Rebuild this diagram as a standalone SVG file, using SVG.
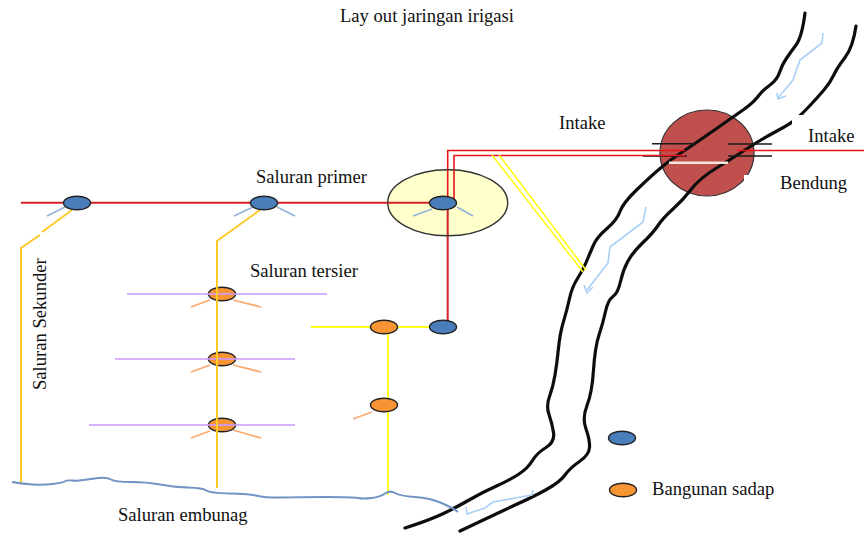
<svg xmlns="http://www.w3.org/2000/svg" width="864" height="533" viewBox="0 0 864 533">
<defs><filter id="soft" x="-5%" y="-5%" width="110%" height="110%"><feGaussianBlur stdDeviation="0.45"/></filter></defs>
<style>
text{font-family:"Liberation Serif","Times New Roman",serif;font-size:18.6px;fill:#111}
.bank{fill:none;stroke:#0d0d0d;stroke-width:3.200;stroke-linejoin:round;stroke-linecap:round}
.flow{fill:none;stroke:#a9d0f5;stroke-width:1.600;stroke-linejoin:round}
.red{fill:none;stroke:#e8141c;stroke-width:1.600}
.prim{fill:none;stroke:#d42027;stroke-width:2}
.sec{fill:none;stroke:#ffc926;stroke-width:2}
.yel{fill:none;stroke:#ffff1a;stroke-width:2}
.pur{stroke:#cc99ff;stroke-width:1.600}
.ot{stroke:#fbab70;stroke-width:1.800}
.bt{stroke:#92b4d8;stroke-width:1.800}
.blk{stroke:#1a1a1a;stroke-width:1.400}
.b{fill:#4a7ebb;stroke:#222;stroke-width:1.400}
.o{fill:#f79433;stroke:#222;stroke-width:1.400}
</style>
<g id="bendung"><ellipse cx="707" cy="153" rx="47" ry="43" fill="#c0504d" stroke="#333" stroke-width="1.200"/></g>
<g id="river" filter="url(#soft)">
<path class="bank" d="M805 13Q802 37 796 45Q790 53 786 59Q782 65 779.500 72.500Q777 80 770 85Q763 90 758 96.500Q753 103 743 110Q733 117 713 131Q693 145 681.500 152.500Q670 160 660 168.500Q650 177 636.500 190Q623 203 620 211.500Q617 220 607 228.500Q597 237 593.500 245Q590 253 586.500 261.500Q583 270 577.500 278.500Q572 287 569.500 298.500Q567 310 563.500 321.500Q560 333 558.500 348Q557 363 555 375Q553 387 549.500 396.500Q546 406 549 414.500Q552 423 553.500 432.500Q555 442 546 447.500Q537 453 532.500 460.500Q528 468 519 474Q510 480 496.500 486Q483 492 470 499.500Q457 507 443.500 513.500Q430 520 405 528"/>
<path class="bank" d="M856 26Q853 47 845 57.500Q837 68 833.500 75.500Q830 83 823.500 90.500Q817 98 810 105.500Q803 113 797.500 118Q792 123 776 131.500Q760 140 746.500 149Q733 158 716.500 168Q700 178 691.500 189Q683 200 673 209Q663 218 658 225.500Q653 233 643 242.500Q633 252 628 261Q623 270 620.500 281.500Q618 293 613 296.500Q608 300 605.500 311.500Q603 323 599 335Q595 347 593.500 370Q592 393 587 405.500Q582 418 586 429Q590 440 589.500 447.500Q589 455 579.500 461.500Q570 468 565 475Q560 482 546.500 489.500Q533 497 515 505L460 531"/>
<path class="flow" d="M823 33L822 43L800 60L793 80L778 98M777 93L778 99L786 96"/>
<path class="flow" d="M646 207L643 222L610 247L608 263L587 290M584 285L587 293L593 287"/>
<path class="flow" d="M533 490L532 495L493 502L485 508L467 514L466 507"/>
</g>
<g id="patches" fill="#fff"><rect x="792" y="115" width="72" height="25"/><rect x="744" y="175" width="20" height="25"/></g>
<g id="connectors">
<path d="M652 143.700H695M643 156H687M728 144H772M728 156H772" class="blk" fill="none"/>
<path d="M669 162.700H728" stroke="#f5e6dc" stroke-width="2.400" fill="none"/>
<path class="red" d="M447.700 202V150.500H685"/>
<path class="red" d="M454 201V155.500H685"/>
<path class="red" d="M737 150.500H864"/>
<path class="prim" d="M21 202.700H430"/>
<path class="prim" d="M447.700 203V321"/>
<path class="yel" style="stroke-width:1.600" d="M492 155L583 272M499 155L586 270"/>
<path class="sec" d="M72 210L42 232M40 235L21 248V483"/>
<path class="sec" d="M260 210L217 241V488"/>
<path class="yel" d="M311 327H430M388 334V495"/>
<path class="pur" d="M127 294H327M115 359H295M89 425H295"/>
<path class="ot" d="M191 307L210 300M233 300L261 307M191 372L210 365M233 365L261 372M191 438L210 431M233 430L261 438M353 419L372 412"/>
<path class="bt" d="M47 216L65 207M234 216L253 207M277 207L295 216"/>
<path fill="none" stroke="#6f94c4" stroke-width="2" filter="url(#soft)" d="M12 482Q23 484 33 484.500Q43 485 52.500 484Q62 483 64.500 481.500Q67 480 72 480.500Q77 481 83.500 480Q90 479 98.500 478Q107 477 111 479.500Q115 482 131 482Q147 482 160 484.500Q173 487 188 487.500Q203 488 206.500 490.500Q210 493 230 493.500Q250 494 258.500 496Q267 498 283.500 497.500Q300 497 326.500 497Q353 497 358 498Q363 499 371.500 498Q380 497 385 493.500Q390 490 395 493Q400 496 415 497Q430 498 441.500 503Q453 508 458 512"/>
</g>
<g id="head-pond"><ellipse cx="447.700" cy="202.700" rx="60" ry="33" fill="#ffffcc" stroke="#333" stroke-width="1.400"/>
<path class="prim" d="M388 202.700H430M447.700 203V235"/><path class="red" d="M447.700 170V202M454 170V201"/>
<path class="bt" d="M413 216L432 209M457 207L473 216"/></g>
<g id="node-b1"><ellipse class="b" cx="77" cy="203" rx="13.500" ry="6.800"/></g>
<g id="node-b2"><ellipse class="b" cx="264" cy="203" rx="13.500" ry="6.800"/></g>
<g id="node-b3"><ellipse class="b" cx="443" cy="203" rx="13.500" ry="6.800"/></g>
<g id="node-b4"><ellipse class="b" cx="443" cy="327" rx="13.500" ry="6.800"/></g>
<g id="node-b5"><ellipse class="b" cx="622" cy="438" rx="13.500" ry="6.800"/></g>
<g id="node-o1"><ellipse class="o" cx="222" cy="294" rx="13.500" ry="6.800"/><path class="pur" d="M208 294H236"/><path class="sec" d="M217 287V301"/></g>
<g id="node-o2"><ellipse class="o" cx="222" cy="359" rx="13.500" ry="6.800"/><path class="pur" d="M208 359H236"/><path class="sec" d="M217 352V366"/></g>
<g id="node-o3"><ellipse class="o" cx="222" cy="425" rx="13.500" ry="6.800"/><path class="pur" d="M208 425H236"/><path class="sec" d="M217 418V432"/></g>
<g id="node-o4"><ellipse class="o" cx="384" cy="327" rx="13.500" ry="6.800"/></g>
<g id="node-o5"><ellipse class="o" cx="384" cy="405" rx="13.500" ry="6.800"/></g>
<g id="node-o6"><ellipse class="o" cx="623" cy="490" rx="13.500" ry="6.800"/></g>
<g id="labels">
<text x="340" y="22">Lay out jaringan irigasi</text>
<text x="559" y="129">Intake</text>
<text x="808" y="142">Intake</text>
<text x="780" y="189">Bendung</text>
<text x="256" y="183">Saluran primer</text>
<text x="250" y="277">Saluran tersier</text>
<text transform="translate(46 390) rotate(-90)">Saluran Sekunder</text>
<text x="118" y="521">Saluran embunag</text>
<text x="652" y="495">Bangunan sadap</text>
</g>
</svg>
